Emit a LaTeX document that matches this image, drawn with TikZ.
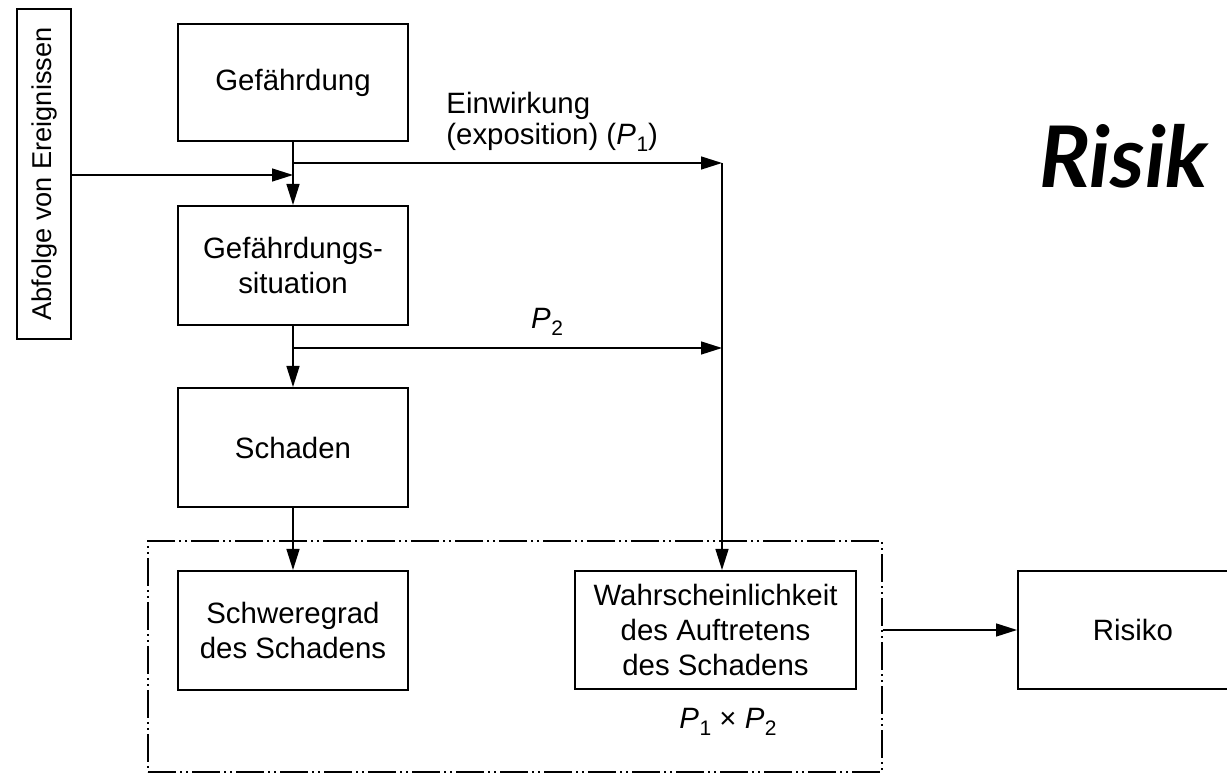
\documentclass[tikz,border=0pt]{standalone}
\usepackage{fontspec}
\setmainfont{Liberation Sans}
\newfontfamily\headfont{Lato}
\usetikzlibrary{arrows.meta}

% italic P with a subscript index
\newcommand\Pvar[1]{\textit{P}\kern0.3pt\raisebox{-0.45ex}{\fontsize{10.5}{10.5}\selectfont #1}}

\tikzset{
  box/.style={draw, line width=1pt, inner sep=0pt, align=center,
    font=\fontsize{14.7}{17.5}\selectfont},
  link/.style={line width=0.7pt, -{Triangle[length=10.5pt,width=6.5pt]}},
  zone/.style={draw, line width=0.7pt, inner sep=0pt,
    dash pattern=on 14pt off 2pt on 1pt off 2pt on 1pt off 2pt},
  lbl/.style={inner sep=0pt, font=\fontsize{14.7}{15.5}\selectfont},
}

\begin{document}
\begin{tikzpicture}[x=0.5pt, y=-0.5pt]
  \useasboundingbox (0,0) rectangle (1227,774);
  \clip (0,0) rectangle (1227,774);

  % heading
  \node[anchor=base west, inner sep=0pt,
        font=\headfont\bfseries\itshape\fontsize{42.5}{45}\selectfont]
    (head) at (1039,188) {Risik};

  % main chain
  \node[box, rotate=90, minimum width=165pt, minimum height=27pt,
        font=\fontsize{13.6}{16}\selectfont]
    (ab) at (44,174) {Abfolge von Ereignissen};
  \node[box, minimum width=115pt, minimum height=58.5pt]
    (g1) at (293,82.5) {Gefährdung};
  \node[box, minimum width=115pt, minimum height=59.5pt]
    (g2) at (293,265.5) {Gefährdungs-\\situation};
  \node[box, minimum width=115pt, minimum height=59.5pt]
    (s) at (293,447.5) {Schaden};

  % risk elements
  \node[zone, minimum width=367pt, minimum height=115.5pt]
    (zn) at (515,656.5) {};
  \node[box, minimum width=115pt, minimum height=59.5pt]
    (sw) at (293,630.5) {Schweregrad\\des Schadens};
  \node[box, minimum width=140.5pt, minimum height=59pt]
    (w) at (715.5,630) {Wahrscheinlichkeit\\des Auftretens\\des Schadens};
  \node[box, minimum width=115pt, minimum height=59pt]
    (r) at (1133,630) {Risiko};

  % branch points
  \coordinate (j0) at (293,175);
  \coordinate (j1) at (293,163);
  \coordinate (j2) at (293,348);
  \coordinate (c1) at (722,163);
  \coordinate (c2) at (722,348);

  % connectors
  \draw[link] (g1.south) -- (g2.north);
  \draw[link] (ab.south |- j0) -- (j0);
  \draw[link] (j1) -- (c1);
  \draw[link] (g2.south) -- (s.north);
  \draw[link] (j2) -- (c2);
  \draw[link] (c1) -- (c1 |- w.north);
  \draw[link] (s.south) -- (sw.north);
  \draw[link] (zn.east |- r.west) -- (r.west);

  % labels
  \node[lbl, anchor=north west, align=left] (l1) at (446,92)
    {Einwirkung\\(exposition) (\Pvar{1})};
  \node[lbl] (l2) at (547,322) {\Pvar{2}};
  \node[lbl] (l3) at (728,722) {\Pvar{1} × \Pvar{2}};
\end{tikzpicture}
\end{document}
